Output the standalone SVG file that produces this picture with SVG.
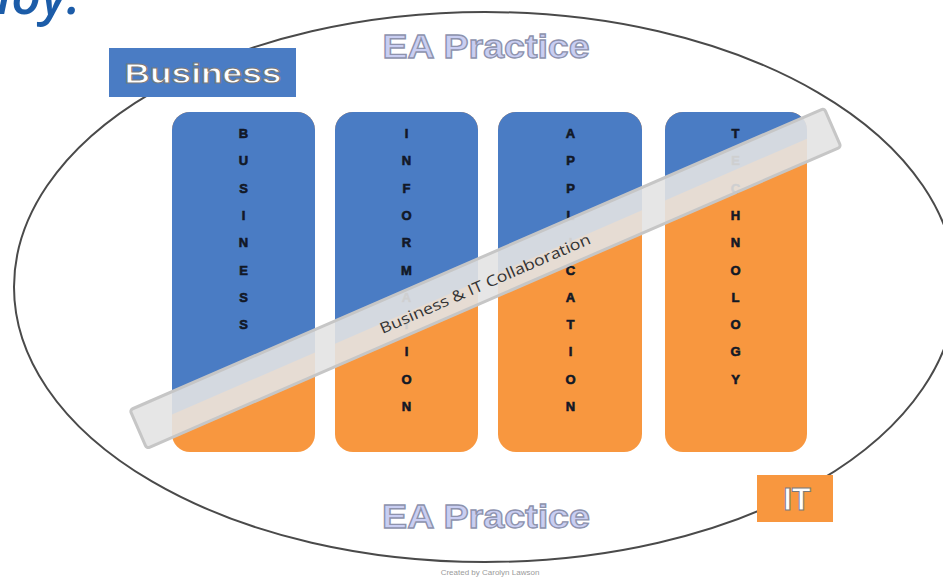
<svg xmlns="http://www.w3.org/2000/svg" width="943" height="577" viewBox="0 0 943 577">
<style>
.col-blue{fill:#4a7cc4}
.col-orange{fill:#f8973f}
.letters{font-family:"Liberation Sans",Arial,sans-serif;font-weight:900;font-size:13px;fill:#121826;stroke:#121826;stroke-width:0.6;text-anchor:middle}
.ea{font-family:"Liberation Sans",Arial,sans-serif;font-weight:900;font-size:34px;fill:#c9cef2;stroke:#8d92ad;stroke-width:1.3;text-anchor:middle}
.lbl{font-family:"Liberation Sans",Arial,sans-serif;font-weight:700;fill:#ffffff;stroke:#7a7a7a;stroke-width:1;text-anchor:middle}
</style>
<defs>
<clipPath id="c1"><rect x="172" y="112" width="143" height="340" rx="18"/></clipPath>
<clipPath id="c2"><rect x="335" y="112" width="143" height="340" rx="18"/></clipPath>
<clipPath id="c3"><rect x="498" y="112" width="144" height="340" rx="18"/></clipPath>
<clipPath id="c4"><rect x="665" y="112" width="142" height="340" rx="18"/></clipPath>
<polygon id="bluepart" points="150,100 830,100 830,128.7 150,424.1"/>
</defs>
<rect width="943" height="577" fill="#ffffff"/>
<text x="-3" y="14" font-family="'Open Sans',sans-serif" font-style="italic" font-weight="600" font-size="52" fill="#1c5ca8">loy.</text>
<g id="practice-boundary">
<ellipse cx="485" cy="287" rx="471" ry="275" fill="none" stroke="#4a4a4a" stroke-width="2"/>
</g>
<g id="col-business">
<g clip-path="url(#c1)">
<rect class="col-orange" x="172" y="112" width="143" height="340"/>
<use href="#bluepart" class="col-blue"/>
</g>
<text class="letters" y="138"><tspan x="243.5">B</tspan><tspan x="243.5" dy="27.3">U</tspan><tspan x="243.5" dy="27.3">S</tspan><tspan x="243.5" dy="27.3">I</tspan><tspan x="243.5" dy="27.3">N</tspan><tspan x="243.5" dy="27.3">E</tspan><tspan x="243.5" dy="27.3">S</tspan><tspan x="243.5" dy="27.3">S</tspan></text>
</g>
<g id="col-information">
<g clip-path="url(#c2)">
<rect class="col-orange" x="335" y="112" width="143" height="340"/>
<use href="#bluepart" class="col-blue"/>
</g>
<text class="letters" y="138"><tspan x="406.5">I</tspan><tspan x="406.5" dy="27.3">N</tspan><tspan x="406.5" dy="27.3">F</tspan><tspan x="406.5" dy="27.3">O</tspan><tspan x="406.5" dy="27.3">R</tspan><tspan x="406.5" dy="27.3">M</tspan><tspan x="406.5" dy="27.3">A</tspan><tspan x="406.5" dy="27.3">T</tspan><tspan x="406.5" dy="27.3">I</tspan><tspan x="406.5" dy="27.3">O</tspan><tspan x="406.5" dy="27.3">N</tspan></text>
</g>
<g id="col-application">
<g clip-path="url(#c3)">
<rect class="col-orange" x="498" y="112" width="144" height="340"/>
<use href="#bluepart" class="col-blue"/>
</g>
<text class="letters" y="138"><tspan x="570.5">A</tspan><tspan x="570.5" dy="27.3">P</tspan><tspan x="570.5" dy="27.3">P</tspan><tspan x="570.5" dy="27.3">L</tspan><tspan x="570.5" dy="27.3">I</tspan><tspan x="570.5" dy="27.3">C</tspan><tspan x="570.5" dy="27.3">A</tspan><tspan x="570.5" dy="27.3">T</tspan><tspan x="570.5" dy="27.3">I</tspan><tspan x="570.5" dy="27.3">O</tspan><tspan x="570.5" dy="27.3">N</tspan></text>
</g>
<g id="col-technology">
<g clip-path="url(#c4)">
<rect class="col-orange" x="665" y="112" width="142" height="340"/>
<use href="#bluepart" class="col-blue"/>
</g>
<text class="letters" y="138"><tspan x="735.5">T</tspan><tspan x="735.5" dy="27.3">E</tspan><tspan x="735.5" dy="27.3">C</tspan><tspan x="735.5" dy="27.3">H</tspan><tspan x="735.5" dy="27.3">N</tspan><tspan x="735.5" dy="27.3">O</tspan><tspan x="735.5" dy="27.3">L</tspan><tspan x="735.5" dy="27.3">O</tspan><tspan x="735.5" dy="27.3">G</tspan><tspan x="735.5" dy="27.3">Y</tspan></text>
</g>
<g id="collaboration-band" transform="translate(485,278.6) rotate(-23.48)">
<rect x="-378" y="-21" width="757" height="42" rx="3" fill="#e3e3e3" fill-opacity="0.9" stroke="#c6c6c6" stroke-width="3"/>
<text x="-2" y="10" font-family="'Open Sans',sans-serif" font-size="15" fill="#333333" text-anchor="middle" textLength="228" lengthAdjust="spacingAndGlyphs">Business &amp; IT Collaboration</text>
</g>
<g id="label-business">
<rect x="109" y="48" width="187" height="49" fill="#4a7cc4"/>
<text class="lbl" x="203" y="83" font-size="28" textLength="157" lengthAdjust="spacingAndGlyphs">Business</text>
</g>
<g id="label-it">
<rect x="757" y="475" width="76" height="47" fill="#f8973f"/>
<text class="lbl" x="797" y="510" font-size="31">IT</text>
</g>
<g id="ea-top">
<text class="ea" x="486" y="58" textLength="207" lengthAdjust="spacingAndGlyphs">EA Practice</text>
</g>
<g id="ea-bottom">
<text class="ea" x="486" y="528" textLength="208" lengthAdjust="spacingAndGlyphs">EA Practice</text>
</g>
<text x="490" y="575" font-family="'Liberation Sans',Arial,sans-serif" font-size="8" fill="#9a9a9a" text-anchor="middle">Created by Carolyn Lawson</text>
</svg>
